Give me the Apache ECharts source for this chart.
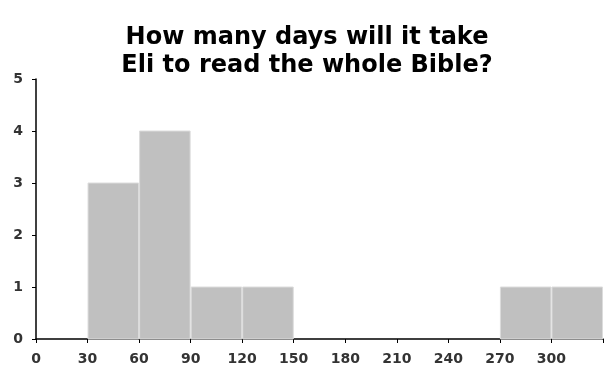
<!DOCTYPE html>
<html><head><meta charset="utf-8">
<script src="https://cdn.jsdelivr.net/npm/echarts@6/dist/echarts.min.js"></script>
<style>html,body{margin:0;padding:0;background:#fff}#c{width:614px;height:382px}</style>
</head><body><div id="c"></div>
<script>
var binStarts = [0, 30, 60, 90, 120, 150, 180, 210, 240, 270, 300];
var binWidth = 30;
var counts = [0, 3, 4, 1, 1, 0, 0, 0, 0, 1, 1];
var xTicks = [0, 30, 60, 90, 120, 150, 180, 210, 240, 270, 300];
var yTicks = [0, 1, 2, 3, 4, 5];
var titleText = 'How many days will it take\nEli to read the whole Bible?';

var data = binStarts.map(function (s, i) { return [s, s + binWidth, counts[i]]; });
var chart = echarts.init(document.getElementById('c'));
var labelStyle = { color: '#333', fontFamily: 'DejaVu Sans', fontWeight: 'bold', fontSize: 14 };
chart.setOption({
  animation: false,
  title: {
    text: titleText, left: 'center', top: 19,
    textStyle: { fontFamily: 'DejaVu Sans', fontWeight: 'bold', fontSize: 24, color: '#000', lineHeight: 28 }
  },
  grid: { left: 36, right: 11, top: 79, bottom: 43 },
  xAxis: {
    type: 'value', min: 0, max: 330, interval: 30,
    axisLine: { show: true, lineStyle: { color: '#000', width: 1.5 } },
    axisTick: { show: true, length: 4, lineStyle: { color: '#000' } },
    splitLine: { show: false },
    axisLabel: Object.assign({ margin: 13, showMaxLabel: true,
      formatter: function (v) { return xTicks.indexOf(v) >= 0 ? String(v) : ''; } }, labelStyle)
  },
  yAxis: {
    type: 'value', min: 0, max: 5, interval: 1,
    axisLine: { show: true, lineStyle: { color: '#000', width: 1.5 } },
    axisTick: { show: true, length: 4, lineStyle: { color: '#000' } },
    splitLine: { show: false },
    axisLabel: Object.assign({ margin: 13,
      formatter: function (v) { return yTicks.indexOf(v) >= 0 ? String(v) : ''; } }, labelStyle)
  },
  series: [{
    type: 'custom',
    data: data,
    renderItem: function (params, api) {
      var h = api.value(2);
      if (!h) return null;
      var p0 = api.coord([api.value(0), 0]);
      var p1 = api.coord([api.value(1), h]);
      return {
        type: 'rect',
        shape: { x: p0[0] + 0.5, y: p1[1], width: p1[0] - p0[0] - 1, height: p0[1] - p1[1] },
        style: { fill: '#c0c0c0', stroke: '#dcdcdc', lineWidth: 1 }
      };
    },
    encode: { x: [0, 1], y: 2 }
  }]
});
</script></body></html>
